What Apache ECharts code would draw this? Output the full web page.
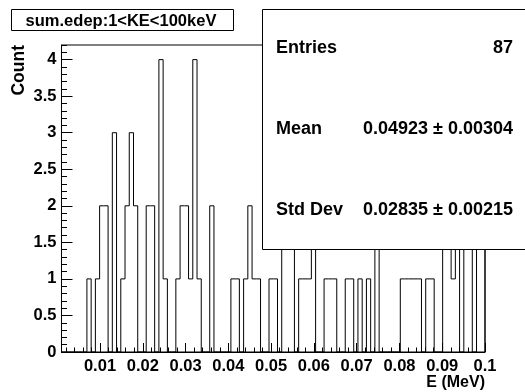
<!DOCTYPE html>
<html>
<head>
<meta charset="utf-8">
<script src="https://cdn.jsdelivr.net/npm/echarts@6/dist/echarts.min.js"></script>
<style>
html,body{margin:0;padding:0;background:#fff;}
#c{width:525px;height:392px;}
</style>
</head>
<body>
<div id="c"></div>
<script>
// ---- data ----
const histTitle = 'sum.edep:1<KE<100keV';
const xTitle = 'E (MeV)';
const yTitle = 'Count';
const xMin = 0.001, xMax = 0.1, nBins = 100;
const counts = [
  0,0,0,0,0,0,1,0,1,2,
  2,0,3,0,1,2,3,2,0,0,
  2,2,0,4,1,0,0,1,2,2,
  1,4,1,0,0,2,0,0,0,0,
  1,1,0,1,2,1,1,0,0,1,
  1,0,2,2,2,0,1,1,1,2,
  0,0,1,1,1,0,0,1,1,0,
  1,0,1,0,2,0,0,0,0,0,
  1,1,1,1,1,0,1,1,0,0,
  2,2,1,2,0,2,2,0,2,2
];
const xTickValues = [0.01,0.02,0.03,0.04,0.05,0.06,0.07,0.08,0.09,0.1];
const xTickLabels = ['0.01','0.02','0.03','0.04','0.05','0.06','0.07','0.08','0.09','0.1'];
const yTickValues = [0,0.5,1,1.5,2,2.5,3,3.5,4];
const yTickLabels = ['0','0.5','1','1.5','2','2.5','3','3.5','4'];
const statNames = ['Entries','Mean','Std Dev'];
const statValues = ['87','0.04923 \u00b1 0.00304','0.02835 \u00b1 0.00215'];

// ---- build ----
const binW = (xMax - xMin) / nBins;
const stepData = [];
for (let i = 0; i < nBins; i++) stepData.push([xMin + i * binW, counts[i]]);
stepData.push([xMax, counts[nBins - 1]]);
stepData.push([xMax, 0]);

const xMinor = [];
for (let k = 1; k <= 50; k++) xMinor.push(+(k * 0.002).toFixed(4));
const yMinor = [];
for (let k = 0; k <= 42; k++) yMinor.push(+(k * 0.1).toFixed(2));

function lab(vals, labs) {
  return function (v) {
    for (let i = 0; i < vals.length; i++) if (Math.abs(v - vals[i]) < 1e-9) return labs[i];
    return '';
  };
}

const FONT = 'Liberation Sans';
function ts(text, size, align, extra) {
  return Object.assign({ text: text, fontSize: size, fontFamily: FONT, fontWeight: 'bold', align: align, verticalAlign: 'middle', fill: '#000' }, extra || {});
}

const chart = echarts.init(document.getElementById('c'), null, { renderer: 'canvas' });
const L = 61.5, T = 45, R = 40, B = 40;
const option = {
  animation: false,
  backgroundColor: '#fff',
  grid: { left: L, top: T, right: R, bottom: B, show: true, borderColor: '#000', borderWidth: 1, backgroundColor: 'transparent' },
  xAxis: [
    {
      type: 'value', min: xMin, max: xMax, position: 'bottom',
      axisLine: { show: true, lineStyle: { color: '#000', width: 1 } },
      axisTick: { show: true, inside: true, length: 9, customValues: xTickValues, lineStyle: { color: '#000' } },
      axisLabel: { show: true, color: '#000', fontFamily: FONT, fontWeight: 'bold', fontSize: 16.5, margin: 6, customValues: xTickValues, formatter: lab(xTickValues, xTickLabels) },
      splitLine: { show: false }
    },
    {
      type: 'value', min: xMin, max: xMax, position: 'bottom',
      axisLine: { show: false },
      axisTick: { show: true, inside: true, length: 4.5, customValues: xMinor, lineStyle: { color: '#000' } },
      axisLabel: { show: false },
      splitLine: { show: false }
    }
  ],
  yAxis: [
    {
      type: 'value', min: 0, max: 4.2, position: 'left',
      axisLine: { show: true, lineStyle: { color: '#000', width: 1 } },
      axisTick: { show: true, inside: true, length: 11, customValues: yTickValues, lineStyle: { color: '#000' } },
      axisLabel: { show: true, color: '#000', fontFamily: FONT, fontWeight: 'bold', fontSize: 16.5, margin: 5, customValues: yTickValues, formatter: lab(yTickValues, yTickLabels) },
      splitLine: { show: false }
    },
    {
      type: 'value', min: 0, max: 4.2, position: 'left',
      axisLine: { show: false },
      axisTick: { show: true, inside: true, length: 5.5, customValues: yMinor, lineStyle: { color: '#000' } },
      axisLabel: { show: false },
      splitLine: { show: false }
    }
  ],
  series: [{
    type: 'line', xAxisIndex: 0, yAxisIndex: 0,
    step: 'end', data: stepData,
    showSymbol: false, symbol: 'none',
    lineStyle: { color: '#000', width: 1 },
    z: 3
  }],
  graphic: [
    // title box
    { type: 'rect', z: 100, shape: { x: 11.5, y: 9.5, width: 222, height: 21 }, style: { fill: '#fff', stroke: '#000', lineWidth: 1 } },
    { type: 'text', z: 101, x: 121, y: 21, style: ts(histTitle, 16.5, 'center') },
    // stats box
    { type: 'rect', z: 100, shape: { x: 262.5, y: 9.5, width: 280, height: 240 }, style: { fill: '#fff', stroke: '#000', lineWidth: 1 } },
    { type: 'text', z: 101, x: 276, y: 48, style: ts(statNames[0], 18, 'left') },
    { type: 'text', z: 101, x: 513, y: 48, style: ts(statValues[0], 18, 'right') },
    { type: 'text', z: 101, x: 276, y: 129, style: ts(statNames[1], 18, 'left') },
    { type: 'text', z: 101, x: 513, y: 129, style: ts(statValues[1], 18, 'right') },
    { type: 'text', z: 101, x: 276, y: 210, style: ts(statNames[2], 18, 'left') },
    { type: 'text', z: 101, x: 513, y: 210, style: ts(statValues[2], 18, 'right') },
    // axis titles
    { type: 'text', z: 101, x: 485, y: 383, style: ts(xTitle, 16, 'right') },
    { type: 'text', z: 101, x: 19, y: 45, rotation: Math.PI / 2, style: ts(yTitle, 17.5, 'right') }
  ]
};
chart.setOption(option);
</script>
</body>
</html>
